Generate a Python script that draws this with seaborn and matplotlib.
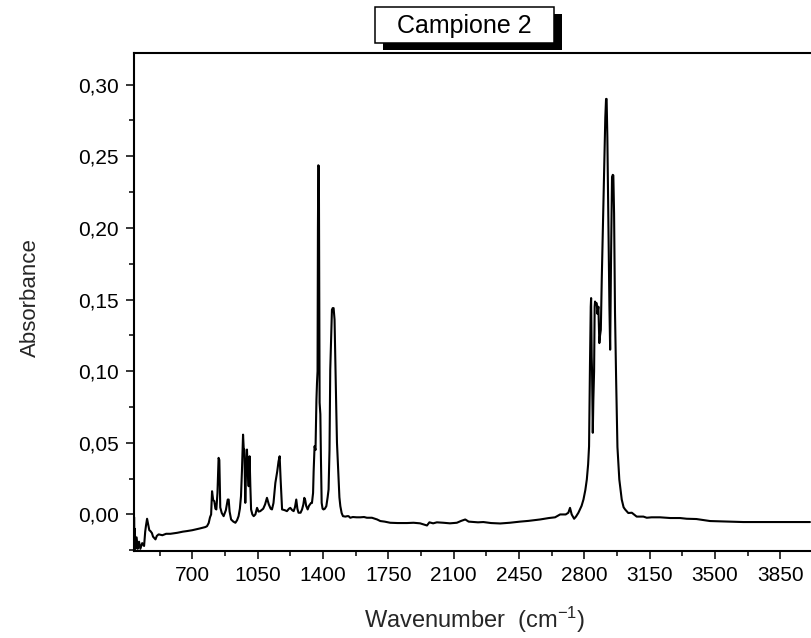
import matplotlib
matplotlib.use("Agg")
import matplotlib.pyplot as plt
import seaborn as sns
import pandas as pd
from matplotlib.ticker import MultipleLocator, FuncFormatter
from matplotlib.patches import Rectangle

# ---------------- data ----------------
title_text = "Campione 2"
x_label = "Wavenumber  (cm$^{\\mathregular{-1}}$)"
y_label = "Absorbance"

wavenumber = [
    389, 390, 392, 396, 402, 408, 415, 422, 432, 442, 448, 452, 458, 464, 470, 476,
    484, 490, 497, 503, 510, 520, 540, 560, 583, 620, 650, 672, 700, 740, 770, 779,
    788, 795, 801, 806, 812, 818, 824, 829, 835, 841, 845, 850, 858, 868, 880, 890,
    895, 900, 908, 920, 931, 940, 948, 955, 961, 966, 972, 976, 979, 982, 984, 988,
    993, 997, 1002, 1005, 1007, 1011, 1015, 1022, 1029, 1038, 1047, 1055, 1064, 1080,
    1090, 1100, 1110, 1120, 1127, 1135, 1145, 1155, 1162, 1168, 1173, 1181, 1195, 1207,
    1218, 1225, 1235, 1243, 1250, 1257, 1263, 1269, 1280, 1288, 1295, 1300, 1305, 1310,
    1318, 1325, 1336, 1341, 1347, 1350, 1355, 1360, 1365, 1368, 1371, 1373, 1375, 1378,
    1380, 1382, 1386, 1389, 1393, 1398, 1403, 1410, 1418, 1425, 1430, 1435, 1439, 1444,
    1448, 1452, 1457, 1462, 1467, 1471, 1475, 1480, 1483, 1488, 1493, 1500, 1507, 1520,
    1530, 1537, 1546, 1560, 1580, 1600, 1620, 1635, 1662, 1690, 1707, 1730, 1760, 1800,
    1850, 1885, 1920, 1957, 1970, 1990, 2010, 2045, 2080, 2117, 2140, 2162, 2180, 2206,
    2230, 2259, 2300, 2349, 2400, 2456, 2500, 2563, 2610, 2643, 2670, 2700, 2714, 2723,
    2732, 2745, 2755, 2768, 2785, 2795, 2805, 2813, 2820, 2825, 2830, 2834, 2836, 2839,
    2841, 2845, 2848, 2852, 2855, 2857, 2862, 2866, 2870, 2875, 2880, 2884, 2888, 2893,
    2898, 2905, 2912, 2916, 2919, 2923, 2928, 2934, 2938, 2943, 2948, 2952, 2955, 2959,
    2964, 2970, 2977, 2987, 3000, 3010, 3018, 3035, 3054, 3080, 3116, 3134, 3160, 3205,
    3260, 3312, 3348, 3400, 3473, 3520, 3560, 3600, 3651, 3700, 3800, 3900, 4008,
]
absorbance = [
    -0.002, -0.024, -0.010, -0.024, -0.016, -0.024, -0.019, -0.024, -0.020, -0.022, -0.012, -0.008, -0.003, -0.007, -0.011, -0.0116,
    -0.013, -0.0155, -0.0165, -0.0174, -0.015, -0.0139, -0.0145, -0.0135, -0.0135, -0.0128, -0.012, -0.0116, -0.011, -0.0098, -0.0088, -0.0082,
    -0.006, -0.002, 0.0, 0.0162, 0.010, 0.0093, 0.004, 0.0035, 0.015, 0.0395, 0.038, 0.0049, 0.001, -0.0012, 0.003, 0.0104,
    0.0104, 0.002, -0.0035, -0.005, -0.0058, -0.004, -0.0012, 0.004, 0.0128, 0.030, 0.0557, 0.045, 0.0453, 0.020, 0.0081, 0.030,
    0.0453, 0.030, 0.0197, 0.030, 0.0406, 0.020, 0.0035, 0.0, -0.0012, 0.0, 0.0046, 0.002, 0.0023, 0.004,
    0.007, 0.0116, 0.007, 0.004, 0.0035, 0.008, 0.022, 0.030, 0.037, 0.0406, 0.025, 0.0035, 0.003, 0.0023,
    0.004, 0.0046, 0.003, 0.0023, 0.005, 0.0104, 0.004, 0.0012, 0.0012, 0.0035, 0.007, 0.0116, 0.010, 0.006,
    0.0035, 0.006, 0.008, 0.008, 0.015, 0.030, 0.0476, 0.045, 0.080, 0.0917, 0.100, 0.200, 0.2437, 0.243,
    0.150, 0.078, 0.070, 0.040, 0.0081, 0.004, 0.0035, 0.004, 0.0058, 0.012, 0.0174, 0.045, 0.101, 0.125,
    0.1428, 0.144, 0.144, 0.136, 0.101, 0.075, 0.050, 0.035, 0.0244, 0.012, 0.0058, 0.001, -0.0012, -0.0015,
    -0.0012, -0.0012, -0.0023, -0.0018, -0.002, -0.002, -0.0018, -0.0023, -0.0023, -0.0035, -0.0046, -0.005, -0.0058, -0.006,
    -0.006, -0.0058, -0.0062, -0.0077, -0.0055, -0.0062, -0.0055, -0.0058, -0.0062, -0.0058, -0.0045, -0.0035, -0.005, -0.0053,
    -0.0055, -0.0053, -0.006, -0.0063, -0.0058, -0.005, -0.0045, -0.0035, -0.0025, -0.002, 0.0, 0.0, 0.0012, 0.0046,
    0.0, -0.003, -0.0015, 0.0012, 0.006, 0.0104, 0.017, 0.0244, 0.035, 0.0476, 0.1056, 0.145, 0.151, 0.110,
    0.100, 0.057, 0.080, 0.100, 0.145, 0.1486, 0.147, 0.1474, 0.140, 0.145, 0.1196, 0.125, 0.1288, 0.164,
    0.194, 0.2333, 0.277, 0.290, 0.290, 0.263, 0.210, 0.145, 0.115, 0.182, 0.2356, 0.237, 0.2367, 0.210,
    0.1405, 0.094, 0.047, 0.0244, 0.0104, 0.005, 0.0035, 0.001, 0.0012, -0.0015, -0.0015, -0.0023, -0.002, -0.002,
    -0.0025, -0.0025, -0.003, -0.0032, -0.0046, -0.0048, -0.005, -0.0052, -0.0053, -0.0053, -0.0053, -0.0053, -0.0053,
]

x_major_ticks = [700, 1050, 1400, 1750, 2100, 2450, 2800, 3150, 3500, 3850]
y_major_ticks = [0.00, 0.05, 0.10, 0.15, 0.20, 0.25, 0.30]

df = pd.DataFrame({"wavenumber": wavenumber, "absorbance": absorbance})

# ---------------- style ----------------
sns.set_style("ticks")
plt.rcParams["font.family"] = ["Liberation Sans", "DejaVu Sans"]
plt.rcParams["mathtext.fontset"] = "custom"
plt.rcParams["mathtext.rm"] = "Liberation Sans"
plt.rcParams["mathtext.it"] = "Liberation Sans"

W, H = 812, 638
fig = plt.figure(figsize=(W / 100, H / 100), dpi=100)
fig.patch.set_facecolor("white")

left_px, right_px, top_px, bottom_px = 134, 815, 53.5, 550.7
ax = fig.add_axes([left_px / W, 1 - bottom_px / H,
                   (right_px - left_px) / W, (bottom_px - top_px) / H])
ax.set_facecolor("white")

sns.lineplot(data=df, x="wavenumber", y="absorbance", ax=ax, color="black",
             linewidth=1.5, estimator=None, sort=False)

ax.set_xlim(388, 4035)
ax.set_ylim(-0.0253, 0.3217)

ax.set_xticks(x_major_ticks)
ax.xaxis.set_minor_locator(MultipleLocator(175))
ax.set_yticks(y_major_ticks)
ax.yaxis.set_minor_locator(MultipleLocator(0.025))
ax.yaxis.set_major_formatter(FuncFormatter(lambda v, p: f"{v:.2f}".replace(".", ",")))

ax.tick_params(which="both", direction="out", top=False, right=False,
               width=1.1, colors="black", labelsize=15)
ax.tick_params(which="major", length=5.8)
ax.tick_params(which="minor", length=3.6)
ax.tick_params(axis="y", which="major", pad=5)
ax.tick_params(axis="x", which="major", pad=5)

for side in ["left", "bottom", "top"]:
    ax.spines[side].set_visible(True)
    ax.spines[side].set_linewidth(1.5)
    ax.spines[side].set_color("black")
ax.spines["right"].set_visible(False)

ax.set_xlabel(x_label, fontsize=17)
ax.set_ylabel(y_label, fontsize=16)
ax.xaxis.set_label_coords(0.5, -(620 - bottom_px) / (bottom_px - top_px), transform=ax.transAxes)
ax.yaxis.set_label_coords(-(left_px - 30) / (right_px - left_px), 0.51)
ax.xaxis.label.set_va("center")
ax.yaxis.label.set_va("center")

# title box with shadow
bx0, by0, bw, bh = 375, 7, 179, 36
fig.add_artist(Rectangle(((bx0 + 8) / W, 1 - (by0 + bh + 7) / H), bw / W, bh / H,
                         transform=fig.transFigure, facecolor="black", edgecolor="none"))
fig.add_artist(Rectangle((bx0 / W, 1 - (by0 + bh) / H), bw / W, bh / H,
                         transform=fig.transFigure, facecolor="white", edgecolor="black",
                         linewidth=1.1))
fig.text((bx0 + bw / 2) / W, 1 - 26 / H, title_text, ha="center", va="center",
         fontsize=18, color="black")

fig.savefig("out.png", dpi=100, facecolor="white")
